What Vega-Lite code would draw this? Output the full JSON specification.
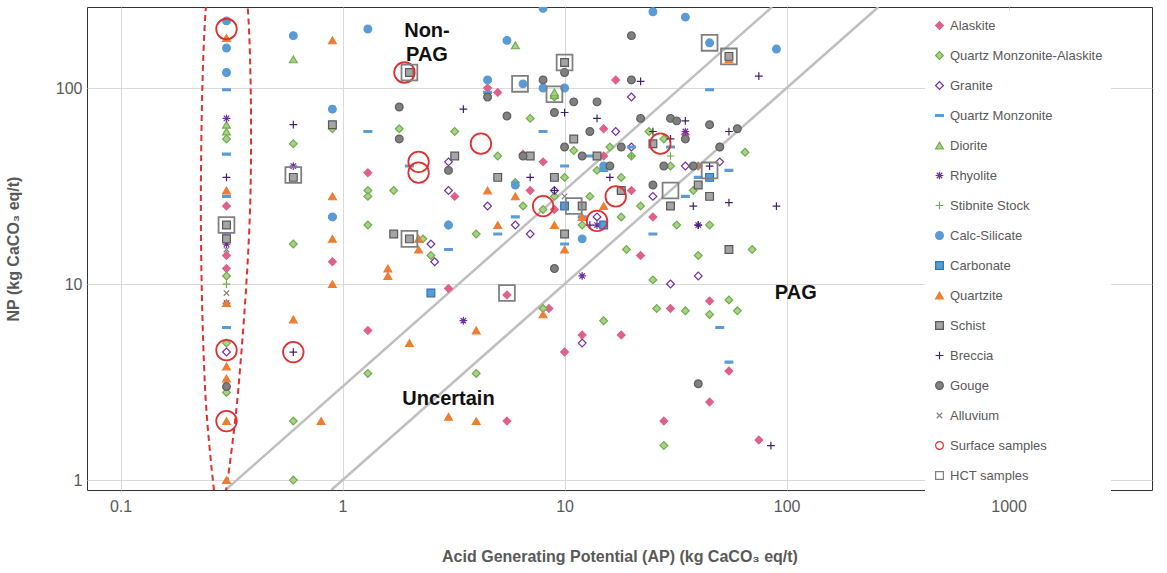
{
"$schema":"https://vega.github.io/schema/vega-lite/v6.json",
"width":1065,"height":483,
"padding":{"top":7,"left":5,"right":2,"bottom":5},
"background":"white",
"config":{"view":{"stroke":"#333"},"axis":{"gridColor":"#d9d9d9","labelFontSize":16,"labelColor":"#595959","titleFontSize":16,"titleColor":"#595959","titleFontWeight":"bold","domain":false,"ticks":false,"labelFont":"Liberation Sans","titleFont":"Liberation Sans"}},
"datasets":{
"pts":[
{"c":"Alaskite","ap":0.3,"np":14},{"c":"Alaskite","ap":0.3,"np":12},{"c":"Alaskite","ap":0.3,"np":25},{"c":"Alaskite","ap":0.9,"np":13},{"c":"Alaskite","ap":1.3,"np":37},{"c":"Alaskite","ap":1.3,"np":5.8},{"c":"Alaskite","ap":3,"np":9.5},{"c":"Alaskite","ap":3.2,"np":28},{"c":"Alaskite","ap":4.5,"np":100},{"c":"Alaskite","ap":5,"np":95},{"c":"Alaskite","ap":5.5,"np":2},{"c":"Alaskite","ap":5.5,"np":8.8},{"c":"Alaskite","ap":6.5,"np":46},{"c":"Alaskite","ap":7,"np":30},{"c":"Alaskite","ap":8,"np":42},{"c":"Alaskite","ap":8.5,"np":7.5},{"c":"Alaskite","ap":10,"np":4.5},{"c":"Alaskite","ap":12,"np":5.5},{"c":"Alaskite","ap":15,"np":45},{"c":"Alaskite","ap":17,"np":110},{"c":"Alaskite","ap":18,"np":5.5},{"c":"Alaskite","ap":20,"np":30},{"c":"Alaskite","ap":25,"np":22},{"c":"Alaskite","ap":28,"np":2},{"c":"Alaskite","ap":30,"np":7.5},{"c":"Alaskite","ap":35,"np":58},{"c":"Alaskite","ap":40,"np":40},{"c":"Alaskite","ap":45,"np":8.2},{"c":"Alaskite","ap":45,"np":2.5},{"c":"Alaskite","ap":55,"np":3.6},{"c":"Alaskite","ap":75,"np":1.6},{"c":"Alaskite","ap":15,"np":62},{"c":"Alaskite","ap":22,"np":14},{"c":"Alaskite","ap":9,"np":24},
{"c":"Quartz Monzonite-Alaskite","ap":0.3,"np":5},{"c":"Quartz Monzonite-Alaskite","ap":0.3,"np":2.8},{"c":"Quartz Monzonite-Alaskite","ap":0.3,"np":11},{"c":"Quartz Monzonite-Alaskite","ap":0.3,"np":55},{"c":"Quartz Monzonite-Alaskite","ap":0.6,"np":1},{"c":"Quartz Monzonite-Alaskite","ap":0.6,"np":2},{"c":"Quartz Monzonite-Alaskite","ap":0.6,"np":16},{"c":"Quartz Monzonite-Alaskite","ap":0.6,"np":52},{"c":"Quartz Monzonite-Alaskite","ap":0.9,"np":62},{"c":"Quartz Monzonite-Alaskite","ap":1.3,"np":30},{"c":"Quartz Monzonite-Alaskite","ap":1.3,"np":20},{"c":"Quartz Monzonite-Alaskite","ap":1.3,"np":3.5},{"c":"Quartz Monzonite-Alaskite","ap":1.3,"np":28},{"c":"Quartz Monzonite-Alaskite","ap":1.7,"np":30},{"c":"Quartz Monzonite-Alaskite","ap":1.8,"np":62},{"c":"Quartz Monzonite-Alaskite","ap":2.3,"np":17},{"c":"Quartz Monzonite-Alaskite","ap":2.5,"np":14},{"c":"Quartz Monzonite-Alaskite","ap":3,"np":20},{"c":"Quartz Monzonite-Alaskite","ap":3.2,"np":60},{"c":"Quartz Monzonite-Alaskite","ap":4,"np":3.5},{"c":"Quartz Monzonite-Alaskite","ap":4,"np":18},{"c":"Quartz Monzonite-Alaskite","ap":5,"np":45},{"c":"Quartz Monzonite-Alaskite","ap":6,"np":33},{"c":"Quartz Monzonite-Alaskite","ap":6.5,"np":25},{"c":"Quartz Monzonite-Alaskite","ap":7,"np":70},{"c":"Quartz Monzonite-Alaskite","ap":8,"np":24},{"c":"Quartz Monzonite-Alaskite","ap":8,"np":7.5},{"c":"Quartz Monzonite-Alaskite","ap":9,"np":90},{"c":"Quartz Monzonite-Alaskite","ap":10,"np":35},{"c":"Quartz Monzonite-Alaskite","ap":11,"np":48},{"c":"Quartz Monzonite-Alaskite","ap":12,"np":20},{"c":"Quartz Monzonite-Alaskite","ap":13,"np":28},{"c":"Quartz Monzonite-Alaskite","ap":14,"np":38},{"c":"Quartz Monzonite-Alaskite","ap":15,"np":6.5},{"c":"Quartz Monzonite-Alaskite","ap":16,"np":50},{"c":"Quartz Monzonite-Alaskite","ap":18,"np":35},{"c":"Quartz Monzonite-Alaskite","ap":19,"np":15},{"c":"Quartz Monzonite-Alaskite","ap":20,"np":45},{"c":"Quartz Monzonite-Alaskite","ap":22,"np":25},{"c":"Quartz Monzonite-Alaskite","ap":24,"np":60},{"c":"Quartz Monzonite-Alaskite","ap":25,"np":10.5},{"c":"Quartz Monzonite-Alaskite","ap":26,"np":7.5},{"c":"Quartz Monzonite-Alaskite","ap":28,"np":1.5},{"c":"Quartz Monzonite-Alaskite","ap":30,"np":40},{"c":"Quartz Monzonite-Alaskite","ap":32,"np":20},{"c":"Quartz Monzonite-Alaskite","ap":35,"np":7.3},{"c":"Quartz Monzonite-Alaskite","ap":38,"np":30},{"c":"Quartz Monzonite-Alaskite","ap":40,"np":14},{"c":"Quartz Monzonite-Alaskite","ap":45,"np":7},{"c":"Quartz Monzonite-Alaskite","ap":50,"np":50},{"c":"Quartz Monzonite-Alaskite","ap":55,"np":8.3},{"c":"Quartz Monzonite-Alaskite","ap":60,"np":7.3},{"c":"Quartz Monzonite-Alaskite","ap":65,"np":47},{"c":"Quartz Monzonite-Alaskite","ap":70,"np":15},{"c":"Quartz Monzonite-Alaskite","ap":9,"np":28},{"c":"Quartz Monzonite-Alaskite","ap":18,"np":22},{"c":"Quartz Monzonite-Alaskite","ap":28,"np":55},{"c":"Quartz Monzonite-Alaskite","ap":45,"np":20},
{"c":"Granite","ap":0.3,"np":4.5},{"c":"Granite","ap":2.6,"np":13},{"c":"Granite","ap":2.5,"np":16},{"c":"Granite","ap":3,"np":30},{"c":"Granite","ap":3,"np":42},{"c":"Granite","ap":4.5,"np":25},{"c":"Granite","ap":6,"np":20},{"c":"Granite","ap":9,"np":30},{"c":"Granite","ap":12,"np":5},{"c":"Granite","ap":14,"np":22},{"c":"Granite","ap":17,"np":60},{"c":"Granite","ap":20,"np":50},{"c":"Granite","ap":25,"np":28},{"c":"Granite","ap":30,"np":10},{"c":"Granite","ap":35,"np":40},{"c":"Granite","ap":40,"np":11},{"c":"Granite","ap":45,"np":35},{"c":"Granite","ap":50,"np":42},{"c":"Granite","ap":20,"np":90},{"c":"Granite","ap":7,"np":18},
{"c":"Quartz Monzonite","ap":0.3,"np":98},{"c":"Quartz Monzonite","ap":0.3,"np":46},{"c":"Quartz Monzonite","ap":0.3,"np":6},{"c":"Quartz Monzonite","ap":0.3,"np":28},{"c":"Quartz Monzonite","ap":0.3,"np":18},{"c":"Quartz Monzonite","ap":0.9,"np":22},{"c":"Quartz Monzonite","ap":1.3,"np":60},{"c":"Quartz Monzonite","ap":2,"np":40},{"c":"Quartz Monzonite","ap":3,"np":15},{"c":"Quartz Monzonite","ap":4.5,"np":95},{"c":"Quartz Monzonite","ap":5,"np":18},{"c":"Quartz Monzonite","ap":6,"np":22},{"c":"Quartz Monzonite","ap":8,"np":60},{"c":"Quartz Monzonite","ap":10,"np":16},{"c":"Quartz Monzonite","ap":12,"np":22},{"c":"Quartz Monzonite","ap":15,"np":38},{"c":"Quartz Monzonite","ap":18,"np":30},{"c":"Quartz Monzonite","ap":20,"np":50},{"c":"Quartz Monzonite","ap":25,"np":18},{"c":"Quartz Monzonite","ap":30,"np":50},{"c":"Quartz Monzonite","ap":35,"np":28},{"c":"Quartz Monzonite","ap":40,"np":35},{"c":"Quartz Monzonite","ap":45,"np":98},{"c":"Quartz Monzonite","ap":50,"np":6},{"c":"Quartz Monzonite","ap":55,"np":4},{"c":"Quartz Monzonite","ap":55,"np":38},{"c":"Quartz Monzonite","ap":10,"np":40},{"c":"Quartz Monzonite","ap":13,"np":45},
{"c":"Diorite","ap":0.3,"np":65},{"c":"Diorite","ap":0.3,"np":60},{"c":"Diorite","ap":0.6,"np":140},{"c":"Diorite","ap":6,"np":165},{"c":"Diorite","ap":9,"np":92},{"c":"Diorite","ap":9,"np":95},
{"c":"Rhyolite","ap":0.3,"np":70},{"c":"Rhyolite","ap":0.3,"np":8},{"c":"Rhyolite","ap":0.3,"np":16},{"c":"Rhyolite","ap":3.5,"np":6.5},{"c":"Rhyolite","ap":12,"np":11},{"c":"Rhyolite","ap":14,"np":20},{"c":"Rhyolite","ap":35,"np":60},{"c":"Rhyolite","ap":40,"np":20},{"c":"Rhyolite","ap":0.6,"np":40},
{"c":"Stibnite Stock","ap":9,"np":30},{"c":"Stibnite Stock","ap":20,"np":45},{"c":"Stibnite Stock","ap":30,"np":45},{"c":"Stibnite Stock","ap":12,"np":25},{"c":"Stibnite Stock","ap":40,"np":40},{"c":"Stibnite Stock","ap":0.3,"np":10},
{"c":"Calc-Silicate","ap":0.3,"np":220},{"c":"Calc-Silicate","ap":0.3,"np":160},{"c":"Calc-Silicate","ap":0.3,"np":120},{"c":"Calc-Silicate","ap":0.6,"np":185},{"c":"Calc-Silicate","ap":0.9,"np":78},{"c":"Calc-Silicate","ap":0.9,"np":22},{"c":"Calc-Silicate","ap":1.3,"np":200},{"c":"Calc-Silicate","ap":3,"np":20},{"c":"Calc-Silicate","ap":4.5,"np":110},{"c":"Calc-Silicate","ap":5.5,"np":175},{"c":"Calc-Silicate","ap":6,"np":32},{"c":"Calc-Silicate","ap":6.5,"np":105},{"c":"Calc-Silicate","ap":8,"np":255},{"c":"Calc-Silicate","ap":8,"np":100},{"c":"Calc-Silicate","ap":10,"np":100},{"c":"Calc-Silicate","ap":12,"np":17},{"c":"Calc-Silicate","ap":25,"np":245},{"c":"Calc-Silicate","ap":35,"np":230},{"c":"Calc-Silicate","ap":45,"np":170},{"c":"Calc-Silicate","ap":90,"np":158},{"c":"Calc-Silicate","ap":15,"np":40},
{"c":"Carbonate","ap":2.5,"np":9},{"c":"Carbonate","ap":10,"np":25},{"c":"Carbonate","ap":45,"np":35},{"c":"Carbonate","ap":15,"np":20},
{"c":"Quartzite","ap":0.3,"np":180},{"c":"Quartzite","ap":0.3,"np":30},{"c":"Quartzite","ap":0.3,"np":20},{"c":"Quartzite","ap":0.3,"np":8},{"c":"Quartzite","ap":0.3,"np":3.8},{"c":"Quartzite","ap":0.3,"np":3.3},{"c":"Quartzite","ap":0.3,"np":2},{"c":"Quartzite","ap":0.3,"np":1},{"c":"Quartzite","ap":0.6,"np":6.6},{"c":"Quartzite","ap":0.8,"np":2},{"c":"Quartzite","ap":0.9,"np":175},{"c":"Quartzite","ap":0.9,"np":28},{"c":"Quartzite","ap":0.9,"np":17},{"c":"Quartzite","ap":0.9,"np":10},{"c":"Quartzite","ap":1.6,"np":11},{"c":"Quartzite","ap":1.6,"np":12},{"c":"Quartzite","ap":2,"np":5},{"c":"Quartzite","ap":2.2,"np":15},{"c":"Quartzite","ap":2.2,"np":17},{"c":"Quartzite","ap":3,"np":2.1},{"c":"Quartzite","ap":4,"np":5.8},{"c":"Quartzite","ap":4,"np":2},{"c":"Quartzite","ap":4.5,"np":30},{"c":"Quartzite","ap":5,"np":20},{"c":"Quartzite","ap":6,"np":28},{"c":"Quartzite","ap":8,"np":7},{"c":"Quartzite","ap":9,"np":20},{"c":"Quartzite","ap":10,"np":15},{"c":"Quartzite","ap":12,"np":22},{"c":"Quartzite","ap":15,"np":25},{"c":"Quartzite","ap":55,"np":140},
{"c":"Schist","ap":0.3,"np":20},{"c":"Schist","ap":0.3,"np":17},{"c":"Schist","ap":0.6,"np":35},{"c":"Schist","ap":0.9,"np":65},{"c":"Schist","ap":1.7,"np":18},{"c":"Schist","ap":2,"np":17},{"c":"Schist","ap":2,"np":120},{"c":"Schist","ap":3.2,"np":45},{"c":"Schist","ap":5,"np":35},{"c":"Schist","ap":7,"np":45},{"c":"Schist","ap":9,"np":35},{"c":"Schist","ap":10,"np":18},{"c":"Schist","ap":11,"np":55},{"c":"Schist","ap":12,"np":25},{"c":"Schist","ap":14,"np":45},{"c":"Schist","ap":18,"np":30},{"c":"Schist","ap":25,"np":52},{"c":"Schist","ap":30,"np":25},{"c":"Schist","ap":45,"np":28},{"c":"Schist","ap":55,"np":15},{"c":"Schist","ap":55,"np":145},{"c":"Schist","ap":10,"np":135},{"c":"Schist","ap":40,"np":32},
{"c":"Breccia","ap":0.3,"np":35},{"c":"Breccia","ap":0.6,"np":65},{"c":"Breccia","ap":0.6,"np":4.5},{"c":"Breccia","ap":3.5,"np":78},{"c":"Breccia","ap":7,"np":35},{"c":"Breccia","ap":9,"np":30},{"c":"Breccia","ap":10,"np":75},{"c":"Breccia","ap":14,"np":70},{"c":"Breccia","ap":16,"np":35},{"c":"Breccia","ap":20,"np":110},{"c":"Breccia","ap":22,"np":108},{"c":"Breccia","ap":25,"np":60},{"c":"Breccia","ap":30,"np":55},{"c":"Breccia","ap":35,"np":68},{"c":"Breccia","ap":38,"np":25},{"c":"Breccia","ap":45,"np":40},{"c":"Breccia","ap":55,"np":60},{"c":"Breccia","ap":55,"np":26},{"c":"Breccia","ap":75,"np":115},{"c":"Breccia","ap":85,"np":1.5},{"c":"Breccia","ap":90,"np":25},{"c":"Breccia","ap":13,"np":20},{"c":"Breccia","ap":40,"np":20},
{"c":"Gouge","ap":0.3,"np":3},{"c":"Gouge","ap":1.8,"np":80},{"c":"Gouge","ap":1.8,"np":55},{"c":"Gouge","ap":3,"np":38},{"c":"Gouge","ap":4.5,"np":90},{"c":"Gouge","ap":5.5,"np":72},{"c":"Gouge","ap":6.5,"np":45},{"c":"Gouge","ap":8,"np":110},{"c":"Gouge","ap":9,"np":75},{"c":"Gouge","ap":10,"np":50},{"c":"Gouge","ap":10,"np":120},{"c":"Gouge","ap":11,"np":85},{"c":"Gouge","ap":12,"np":45},{"c":"Gouge","ap":13,"np":60},{"c":"Gouge","ap":14,"np":85},{"c":"Gouge","ap":16,"np":40},{"c":"Gouge","ap":18,"np":50},{"c":"Gouge","ap":20,"np":110},{"c":"Gouge","ap":20,"np":185},{"c":"Gouge","ap":25,"np":32},{"c":"Gouge","ap":28,"np":40},{"c":"Gouge","ap":30,"np":70},{"c":"Gouge","ap":32,"np":68},{"c":"Gouge","ap":35,"np":55},{"c":"Gouge","ap":38,"np":40},{"c":"Gouge","ap":40,"np":3.1},{"c":"Gouge","ap":45,"np":65},{"c":"Gouge","ap":50,"np":50},{"c":"Gouge","ap":60,"np":62},{"c":"Gouge","ap":22,"np":70},{"c":"Gouge","ap":9,"np":12},
{"c":"Alluvium","ap":0.3,"np":9},{"c":"Alluvium","ap":0.3,"np":15},{"c":"Alluvium","ap":10,"np":28}
],
"surf":[
{"c":"Surface samples","ap":0.3,"np":200},{"c":"Surface samples","ap":0.3,"np":4.6},{"c":"Surface samples","ap":0.3,"np":2},{"c":"Surface samples","ap":0.6,"np":4.5},{"c":"Surface samples","ap":1.9,"np":120},{"c":"Surface samples","ap":2.2,"np":42},{"c":"Surface samples","ap":2.2,"np":37},{"c":"Surface samples","ap":4.2,"np":52},{"c":"Surface samples","ap":8,"np":25},{"c":"Surface samples","ap":14,"np":21},{"c":"Surface samples","ap":17,"np":28},{"c":"Surface samples","ap":27,"np":52}
],
"hct":[
{"c":"HCT samples","ap":0.3,"np":20},{"c":"HCT samples","ap":0.6,"np":36},{"c":"HCT samples","ap":2,"np":17},{"c":"HCT samples","ap":2,"np":120},{"c":"HCT samples","ap":5.5,"np":9},{"c":"HCT samples","ap":6.3,"np":105},{"c":"HCT samples","ap":9,"np":93},{"c":"HCT samples","ap":10,"np":135},{"c":"HCT samples","ap":11,"np":25},{"c":"HCT samples","ap":45,"np":38},{"c":"HCT samples","ap":45,"np":170},{"c":"HCT samples","ap":55,"np":145},{"c":"HCT samples","ap":30,"np":30}
]
},
"encoding":{
"x":{"field":"ap","type":"quantitative","scale":{"type":"log","domain":[0.0706,4426]},"axis":{"values":[0.1,1,10,100,1000],"labelExpr":"datum.value","title":"Acid Generating Potential (AP)  (kg CaCO₃ eq/t)","titlePadding":34,"labelPadding":8}},
"y":{"field":"np","type":"quantitative","scale":{"type":"log","domain":[0.89,259]},"axis":{"values":[1,10,100],"title":"NP (kg CaCO₃ eq/t)","titlePadding":34,"labelPadding":5}}
},
"layer":[
{"data":{"values":[{"g":"a","ap":0.89,"np":0.89},{"g":"a","ap":259,"np":259},{"g":"b","ap":0.297,"np":0.89},{"g":"b","ap":86,"np":259}]},
 "mark":{"type":"line","color":"#bfbfbf","strokeWidth":2.5,"clip":true},"encoding":{"detail":{"field":"g"}}},
{"data":{"values":[{"o":1,"ap":0.27,"np":0.7},{"o":2,"ap":0.24,"np":3},{"o":3,"ap":0.23,"np":30},{"o":4,"ap":0.245,"np":300},{"o":5,"ap":0.3,"np":600},{"o":6,"ap":0.37,"np":300},{"o":7,"ap":0.385,"np":30},{"o":8,"ap":0.34,"np":3},{"o":9,"ap":0.29,"np":0.7}]},
 "mark":{"type":"line","color":"#e03030","strokeWidth":2,"strokeDash":[6,4],"interpolate":"cardinal","clip":true},"encoding":{"order":{"field":"o"}}},
{"data":{"name":"pts"},"mark":{"type":"point","size":60,"filled":false,"opacity":1,"strokeWidth":1.2,"clip":true},
 "encoding":{
  "shape":{"field":"c","type":"nominal","scale":{"domain":["Alaskite","Quartz Monzonite-Alaskite","Granite","Quartz Monzonite","Diorite","Rhyolite","Stibnite Stock","Calc-Silicate","Carbonate","Quartzite","Schist","Breccia","Gouge","Alluvium","Surface samples","HCT samples"],
    "range":["diamond","diamond","diamond","M-1,-0.25H1V0.25H-1Z","triangle-up","M-1,0H1M0,-1V1M-0.7,-0.7L0.7,0.7M-0.7,0.7L0.7,-0.7","M-1,0H1M0,-1V1","circle","square","triangle-up","square","M-1,0H1M0,-1V1","circle","M-0.7,-0.7L0.7,0.7M-0.7,0.7L0.7,-0.7","circle","square"]},
    "legend":{"title":null,"orient":"none","legendX":838,"legendY":4,"fillColor":"white","labelFontSize":13,"labelColor":"#595959","labelFont":"Liberation Sans","rowPadding":16,"symbolSize":60,"padding":8,"symbolStrokeWidth":1.2}},
  "fill":{"field":"c","type":"nominal","scale":{"domain":["Alaskite","Quartz Monzonite-Alaskite","Granite","Quartz Monzonite","Diorite","Rhyolite","Stibnite Stock","Calc-Silicate","Carbonate","Quartzite","Schist","Breccia","Gouge","Alluvium","Surface samples","HCT samples"],
    "range":["#e0608a","#a9d18e","transparent","#5b9bd5","#a9d18e","transparent","transparent","#5b9bd5","#5b9bd5","#ed7d31","#a5a5a5","transparent","#808080","transparent","transparent","transparent"]}},
  "stroke":{"field":"c","type":"nominal","scale":{"domain":["Alaskite","Quartz Monzonite-Alaskite","Granite","Quartz Monzonite","Diorite","Rhyolite","Stibnite Stock","Calc-Silicate","Carbonate","Quartzite","Schist","Breccia","Gouge","Alluvium","Surface samples","HCT samples"],
    "range":["#e0608a","#70ad47","#7030a0","#5b9bd5","#70ad47","#7030a0","#70ad47","#5b9bd5","#2e75b6","#ed7d31","#595959","#3f2070","#606060","#808080","#e03030","#808080"]}}
 }},
{"data":{"name":"surf"},"mark":{"type":"point","filled":false,"opacity":1,"strokeWidth":1.8},
 "encoding":{"size":{"value":420},"shape":{"field":"c","type":"nominal"},"fill":{"field":"c","type":"nominal"},"stroke":{"field":"c","type":"nominal"}}},
{"data":{"name":"hct"},"mark":{"type":"point","filled":false,"opacity":1,"strokeWidth":1.8},
 "encoding":{"size":{"value":250},"shape":{"field":"c","type":"nominal"},"fill":{"field":"c","type":"nominal"},"stroke":{"field":"c","type":"nominal"}}},
{"data":{"values":[{"t":["Non-","PAG"],"ap":2.4,"np":195},{"t":"PAG","ap":110,"np":9},{"t":"Uncertain","ap":3,"np":2.6}]},
 "mark":{"type":"text","fontSize":20,"fontWeight":"bold","font":"Liberation Sans","color":"#111","lineHeight":24},
 "encoding":{"text":{"field":"t"}}}
]
}
